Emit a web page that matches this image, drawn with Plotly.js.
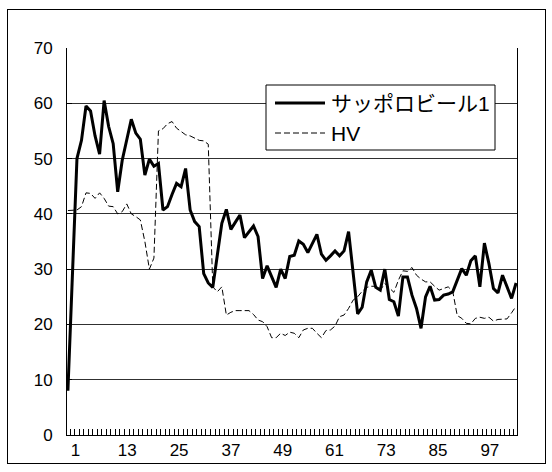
<!DOCTYPE html>
<html>
<head>
<meta charset="utf-8">
<script src="https://cdn.plot.ly/plotly-3.0.1.min.js"></script>
<style>
  html, body { margin: 0; padding: 0; background: #fff; }
  #wrap { position: relative; width: 552px; height: 472px; }
  #chart { position: absolute; left: 0; top: 0; width: 552px; height: 472px; }
  #frame { position: absolute; left: 7px; top: 9px; width: 537px; height: 453px; border: 1px solid #000; pointer-events: none; }
</style>
</head>
<body>
<div id="wrap">
  <div id="chart"></div>
  <div id="frame"></div>
</div>
<script>
// ---- data ----
const seriesNames = ['サッポロビール1', 'HV'];

const sapporo = [
  8, 29, 50.0, 53.3, 59.5, 58.6, 54.1, 50.8, 60.5, 55.8,
  52.7, 44.0, 49.7, 53.4, 57.1, 54.6, 53.5, 47.0, 49.9, 48.6,
  49.1, 40.7, 41.3, 43.5, 45.5, 44.9, 48.2, 40.7, 38.6, 37.7,
  29.2, 27.5, 26.7, 32.5, 38.3, 40.8, 37.2, 38.5, 39.8, 35.7,
  36.8, 37.8, 35.9, 28.3, 30.6, 28.6, 26.7, 30.0, 28.3, 32.3,
  32.5, 35.1, 34.5, 33.0, 34.6, 36.3, 32.7, 31.6, 32.4, 33.3,
  32.4, 33.3, 36.8, 29.3, 21.9, 23.1, 27.7, 29.8, 26.7, 26.2,
  30.0, 24.5, 24.1, 21.5, 28.6, 28.6, 25.3, 22.9, 19.3, 25.0,
  26.9, 24.4, 24.5, 25.3, 25.5, 25.9, 28.2, 30.1, 28.9, 31.5,
  32.4, 26.8, 34.7, 31.0, 26.5, 25.7, 28.9, 26.8, 24.7, 27.5
];

const hv = [
  40.6, 40.6, 40.7, 41.3, 43.8, 43.7, 42.8, 43.8, 42.8, 41.4,
  41.3, 40.0, 40.4, 41.8, 40.0, 39.5, 38.9, 35.0, 30.0, 32.0,
  55.0, 55.4, 56.3, 56.7, 55.5, 54.9, 54.3, 54.1, 53.7, 53.3,
  53.2, 52.6, 26.8, 25.9, 26.8, 21.7, 22.2, 22.5, 22.5, 22.5,
  22.5, 21.8, 20.8, 20.5, 19.6, 17.6, 17.6, 18.4, 18.0, 18.6,
  18.4, 17.6, 19.0, 19.3, 19.3, 18.4, 17.6, 18.9, 19.0, 19.7,
  21.4, 21.7, 22.9, 24.4, 25.0, 26.0, 26.7, 26.9, 26.9, 26.2,
  27.4, 26.6, 25.8, 28.0, 29.7, 29.6, 30.3, 28.9, 28.2, 27.7,
  27.7, 26.9, 26.2, 26.5, 26.8, 26.0, 21.6, 21.1, 20.2, 20.1,
  21.1, 21.3, 21.1, 21.3, 20.6, 20.9, 20.9, 21.0, 22.1, 23.3
];

// category numbers (1..N) for each observation
const categories = sapporo.map((_, i) => i + 1);

// x-axis tick labels shown under the axis
const xTickLabels = ['1', '13', '25', '37', '49', '61', '73', '85', '97'];
// y-axis tick values
const yTicks = [0, 10, 20, 30, 40, 50, 60, 70];

// ---- layout helpers (positions, not data) ----
const LABEL_A = 2.68, LABEL_B = (94.2 - 2.68) / 96;
const xTickVals = xTickLabels.map(t => LABEL_A + (Number(t) - 1) * LABEL_B);

const FONT = '"Liberation Sans", Arial, "Noto Sans CJK JP", sans-serif';

// plot area in pixels
const M = { l: 67, r: 35, t: 48, b: 37 };
const PW = 552 - M.l - M.r, PH = 472 - M.t - M.b;
const px = v => (v - M.l) / PW;          // pixel x -> paper
const py = v => (472 - M.b - v) / PH;    // pixel y -> paper

// legend geometry (pixels)
const LG = { x0: 266, x1: 495, y0: 85, y1: 150, lineX0: 275, lineX1: 325, textX: 329, row1: 103, row2: 133 };

const traces = [
  {
    x: categories, y: sapporo, name: seriesNames[0],
    type: 'scatter', mode: 'lines',
    line: { color: '#000', width: 3 }, showlegend: false
  },
  {
    x: categories, y: hv, name: seriesNames[1],
    type: 'scatter', mode: 'lines',
    line: { color: '#000', width: 1, dash: '6px,3px' }, showlegend: false
  }
];

const layout = {
  width: 552, height: 472,
  margin: { l: M.l, r: M.r, t: M.t, b: M.b, pad: 0 },
  paper_bgcolor: '#fff', plot_bgcolor: '#fff',
  font: { family: FONT, size: 17, color: '#000' },
  showlegend: false,
  xaxis: {
    range: [0.8, 100.2],
    showgrid: false, zeroline: false,
    showline: true, linecolor: '#000', linewidth: 1,
    tickmode: 'array', tickvals: xTickVals, ticktext: xTickLabels,
    ticks: 'inside', ticklen: 0, tickcolor: '#000',
    tickfont: { family: FONT, size: 17, color: '#000' },
    minor: { tickmode: 'array', tickvals: categories.map(c => c + 0.5), ticks: 'inside', ticklen: 6, tickcolor: '#000', tickwidth: 1, showgrid: false }
  },
  yaxis: {
    range: [0, 70],
    tickmode: 'array', tickvals: yTicks, ticktext: yTicks.map(String),
    showgrid: true, gridcolor: '#303030', gridwidth: 1,
    zeroline: false,
    showline: true, linecolor: '#000', linewidth: 1, mirror: true,
    ticks: 'inside', ticklen: 5, tickcolor: '#000',
    tickfont: { family: FONT, size: 17, color: '#000' },
    ticklabelstandoff: 10
  },
  shapes: [
    { type: 'rect', xref: 'paper', yref: 'paper', x0: px(LG.x0), x1: px(LG.x1), y0: py(LG.y1), y1: py(LG.y0),
      line: { color: '#000', width: 1 }, fillcolor: '#fff', layer: 'above' },
    { type: 'line', xref: 'paper', yref: 'paper', x0: px(LG.lineX0), x1: px(LG.lineX1), y0: py(LG.row1), y1: py(LG.row1),
      line: { color: '#000', width: 3 }, layer: 'above' },
    { type: 'line', xref: 'paper', yref: 'paper', x0: px(LG.lineX0), x1: px(LG.lineX1), y0: py(LG.row2), y1: py(LG.row2),
      line: { color: '#000', width: 1, dash: '6px,3px' }, layer: 'above' }
  ],
  annotations: [
    { xref: 'paper', yref: 'paper', x: px(LG.textX), y: py(LG.row1), xanchor: 'left', yanchor: 'middle',
      text: seriesNames[0], showarrow: false, font: { family: FONT, size: 21, color: '#000' } },
    { xref: 'paper', yref: 'paper', x: px(LG.textX), y: py(LG.row2), xanchor: 'left', yanchor: 'middle',
      text: seriesNames[1], showarrow: false, font: { family: FONT, size: 21, color: '#000' } }
  ]
};

Plotly.newPlot('chart', traces, layout, { staticPlot: true, displayModeBar: false });
</script>
</body>
</html>
